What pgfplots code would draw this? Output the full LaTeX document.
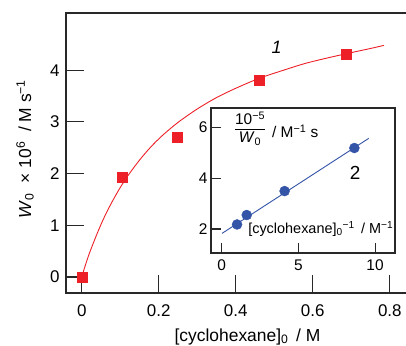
\documentclass[border=0pt]{standalone}
\usepackage{fontspec}
\setmainfont{Liberation Sans}
\usepackage{pgfplots}
\pgfplotsset{compat=1.18}
\definecolor{myred}{RGB}{237,32,40}
\definecolor{myblue}{RGB}{52,84,168}
\definecolor{axgray}{RGB}{40,40,40}
\begin{document}
\begin{tikzpicture}
\path[use as bounding box] (-66bp,-53bp) rectangle (340bp,293bp);
\begin{axis}[
  at={(0,0)}, anchor=south west,
  scale only axis, width=354bp, height=280bp,
  xmin=-0.0408, xmax=0.8785, ymin=-0.309, ymax=5.106,
  xtick={0,0.2,0.4,0.6,0.8}, ytick={0,1,2,3,4},
  tick pos=left, tick align=inside, major tick length=18bp,
  axis line style={axgray, line width=1.1bp},
  tick style={axgray, line width=1.1bp},
  /pgf/number format/assume math mode=true,
  ticklabel style={font=\fontsize{17}{20}\selectfont},
  xticklabel style={yshift=-8bp},
  yticklabel style={xshift=-3bp},
  axis on top,
]
\addplot[myred, line width=0.9bp, smooth, no marks] coordinates {
(0,0) (0.01,0.24) (0.02,0.46) (0.04,0.84) (0.06,1.18) (0.08,1.47) (0.10,1.73)
(0.12,1.96) (0.15,2.26) (0.18,2.52) (0.21,2.74) (0.25,2.99) (0.30,3.25)
(0.35,3.47) (0.40,3.65) (0.46,3.84) (0.52,3.99) (0.58,4.13) (0.64,4.24)
(0.70,4.34) (0.75,4.42) (0.785,4.48)
};
\addplot[only marks, mark=square*, mark size=5bp, mark options={fill=myred, draw=myred}] coordinates {
(0,0) (0.104,1.94) (0.248,2.71) (0.461,3.80) (0.688,4.31)
};
\node[font=\fontsize{18}{20}\selectfont\itshape] at (axis cs:0.506,4.45) {1};
\end{axis}
\begin{axis}[
  at={(145bp,40bp)}, anchor=south west,
  scale only axis, width=184bp, height=145bp,
  xmin=-0.70, xmax=11.30, ymin=1.06, ymax=6.75,
  xtick={0,5,10}, ytick={2,4,6},
  tick pos=left, tick align=inside, major tick length=10bp,
  axis line style={axgray, line width=1.1bp},
  tick style={axgray, line width=1.1bp},
  axis background/.style={fill=white},
  /pgf/number format/assume math mode=true,
  ticklabel style={font=\fontsize{15.5}{18}\selectfont},
  xticklabel style={yshift=-3bp},
]
\addplot[myblue, line width=0.9bp, no marks] coordinates {(0.02,1.83) (9.59,5.56)};
\addplot[only marks, mark=*, mark size=5bp, mark options={fill=myblue, draw=myblue}] coordinates {
(1.0,2.18) (1.63,2.55) (4.1,3.49) (8.65,5.18)
};
\node[font=\fontsize{15.5}{18}\selectfont, inner sep=0pt] at (axis cs:1.85,5.88)
  {\begin{tabular}{@{}c@{}}10\textsuperscript{−5}\\[-1pt]\hline\rule{0pt}{13pt}\textit{W}\textsubscript{0}\end{tabular}};
\node[font=\fontsize{15.5}{18}\selectfont, anchor=west, inner sep=0pt] at (axis cs:3.27,5.84) {/ M\textsuperscript{−1} s};
\node[font=\fontsize{14.5}{17}\selectfont, anchor=east, inner sep=0pt] at (axis cs:11.2,2.0) {[cyclohexane]\textsubscript{0}\textsuperscript{−1}\, / M\textsuperscript{−1}};
\node[font=\fontsize{19}{22}\selectfont] at (axis cs:8.7,4.2) {2};
\end{axis}
\node[font=\fontsize{17.5}{20}\selectfont, anchor=base] at (181.5bp,-48bp) {[cyclohexane]\textsubscript{0}\,\ / M};
\node[font=\fontsize{17.5}{20}\selectfont, anchor=base, rotate=90] at (-35bp,144bp) {\textit{W}\textsubscript{0}\ \ × 10\textsuperscript{6}\ \ / M s\textsuperscript{−1}};
\end{tikzpicture}
\end{document}
